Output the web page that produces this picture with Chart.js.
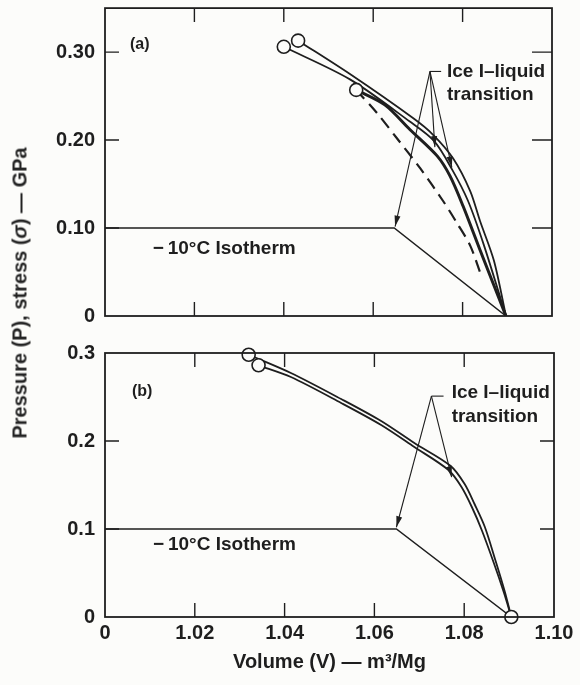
<!DOCTYPE html>
<html>
<head>
<meta charset="utf-8">
<script src="https://cdn.jsdelivr.net/npm/chart.js@4.4.0/dist/chart.umd.min.js"></script>
<style>
  body { margin: 0; background: #fcfcfa; }
  #wrap { position: relative; width: 580px; height: 685px; }
  #boxA { position: absolute; left: 0; top: 0; width: 580px; height: 330px; }
  #boxB { position: absolute; left: 0; top: 330px; width: 580px; height: 355px; }
  #ytitle {
    position: absolute; left: 20px; top: 293px;
    transform: translate(-50%, -50%) rotate(-90deg);
    white-space: nowrap; color: #222;
    font: bold 20px "Liberation Sans", Arial, sans-serif;
  }
</style>
</head>
<body>
<div id="wrap">
  <div id="boxA"><canvas id="chartA"></canvas></div>
  <div id="boxB"><canvas id="chartB"></canvas></div>
  <div id="ytitle">Pressure (P), stress (<i>σ</i>) — GPa</div>
</div>
<script>
// volume axis (m3/Mg); the axis is broken, 1.00 is labelled "0"
const xTicks = [1.00, 1.02, 1.04, 1.06, 1.08, 1.10];
const yTicksA = [0, 0.10, 0.20, 0.30];
const yTicksB = [0, 0.1, 0.2, 0.3];

// panel (a)
const a1V = [1.0432, 1.0548, 1.0689, 1.0734, 1.0779, 1.0817, 1.0839, 1.0870, 1.0897];
const a1P = [0.313, 0.275, 0.225, 0.206, 0.179, 0.142, 0.108, 0.063, 0];
const a2V = [1.0400, 1.0548, 1.0682, 1.0736, 1.0776, 1.0812, 1.0848, 1.0897];
const a2P = [0.306, 0.269, 0.221, 0.199, 0.167, 0.131, 0.080, 0];
const a3V = [1.0562, 1.0626, 1.0682, 1.0743, 1.0772, 1.0801, 1.0839, 1.0897];
const a3P = [0.257, 0.240, 0.212, 0.182, 0.159, 0.125, 0.075, 0];
const aDashV = [1.0562, 1.0608, 1.0653, 1.0705, 1.0756, 1.0787, 1.0817, 1.0843];
const aDashP = [0.257, 0.231, 0.202, 0.168, 0.131, 0.106, 0.080, 0.044];
const aIsoV = [1.00, 1.0647, 1.0897];
const aIsoP = [0.10, 0.10, 0];
const aCircV = [1.0400, 1.0432, 1.0562];
const aCircP = [0.306, 0.313, 0.257];

// panel (b)
const b1V = [1.0320, 1.0414, 1.0526, 1.0615, 1.0689, 1.0770, 1.0801, 1.0823, 1.0846, 1.0870, 1.0890, 1.0905];
const b1P = [0.298, 0.2773, 0.2477, 0.2227, 0.1977, 0.1716, 0.1511, 0.1284, 0.1023, 0.0636, 0.0295, 0];
const b2V = [1.0342, 1.0414, 1.0526, 1.0615, 1.0689, 1.0765, 1.0794, 1.0817, 1.0839, 1.0866, 1.0888, 1.0905];
const b2P = [0.286, 0.2727, 0.2432, 0.2182, 0.1932, 0.167, 0.1477, 0.125, 0.0989, 0.0614, 0.0284, 0];
const bIsoV = [1.00, 1.0649, 1.0905];
const bIsoP = [0.10, 0.10, 0];
const bCircV = [1.0320, 1.0342, 1.0905];
const bCircP = [0.298, 0.286, 0];

// annotation anchors in data units
const notesA = [['(a)', 1.0056, 0.3085, 16], ['\u2212\u200910\u00b0C Isotherm', 1.0107, 0.0768, 19],
                ['Ice I\u2013liquid', 1.0765, 0.278, 19], ['transition', 1.0765, 0.252, 19]];
const notesB = [['(b)', 1.0060, 0.2557, 16], ['\u2212\u200910\u00b0C Isotherm', 1.0107, 0.0818, 19],
                ['Ice I\u2013liquid', 1.0772, 0.2545, 19], ['transition', 1.0772, 0.227, 19]];
const arrowsA = { from: [1.0727, 0.278], leader: 1.0752, to: [[1.0649, 0.1017], [1.0738, 0.192], [1.0776, 0.169]] };
const arrowsB = { from: [1.0727, 0.251], leader: 1.0754, to: [[1.0649, 0.102], [1.0772, 0.159]] };

const ink = '#1e1e1e';
const bg = '#fcfcfa';
const fam = '"Liberation Sans", Arial, sans-serif';

function pts(vs, ps) {
  return vs.map((v, i) => ({ x: v, y: ps[i] }));
}

function curve(vs, ps, w, dash) {
  return {
    data: pts(vs, ps), showLine: true, pointRadius: 0, borderColor: ink,
    borderWidth: w, borderDash: dash || [], tension: 0.3, fill: false
  };
}

function straight(vs, ps) {
  return { data: pts(vs, ps), showLine: true, pointRadius: 0, borderColor: ink, borderWidth: 1.5, tension: 0 };
}

function circles(vs, ps) {
  return {
    data: pts(vs, ps), showLine: false, pointRadius: 6.5, pointBackgroundColor: bg,
    pointBorderColor: ink, pointBorderWidth: 1.6, clip: false
  };
}

const framePlugin = {
  id: 'frame',
  afterDatasetsDraw(chart, args, opts) {
    const { ctx, chartArea: a, scales: { x, y } } = chart;
    ctx.save();
    ctx.strokeStyle = ink;
    ctx.fillStyle = ink;
    ctx.lineWidth = 1.8;
    ctx.strokeRect(a.left, a.top, a.right - a.left, a.bottom - a.top);

    // inner tick marks
    ctx.lineWidth = 1.4;
    ctx.beginPath();
    xTicks.filter(v => v > x.min && v < x.max).forEach(v => {
      const px = x.getPixelForValue(v);
      ctx.moveTo(px, a.top); ctx.lineTo(px, a.top + 14);
      ctx.moveTo(px, a.bottom); ctx.lineTo(px, a.bottom - 14);
    });
    opts.yTicks.filter(v => v > y.min && v < y.max).forEach(v => {
      const py = y.getPixelForValue(v);
      ctx.moveTo(a.left, py); ctx.lineTo(a.left + 14, py);
      ctx.moveTo(a.right, py); ctx.lineTo(a.right - opts.rightTick, py);
    });
    ctx.stroke();

    // arrows from the label
    const ar = opts.arrows;
    const fx = x.getPixelForValue(ar.from[0]), fy = y.getPixelForValue(ar.from[1]);
    ctx.lineWidth = 1.1;
    ctx.beginPath();
    ctx.moveTo(fx, fy); ctx.lineTo(x.getPixelForValue(ar.leader), fy);
    ctx.stroke();
    ar.to.forEach(t => {
      const tx = x.getPixelForValue(t[0]), ty = y.getPixelForValue(t[1]);
      const ang = Math.atan2(ty - fy, tx - fx);
      ctx.beginPath();
      ctx.moveTo(fx, fy); ctx.lineTo(tx, ty);
      ctx.stroke();
      ctx.beginPath();
      ctx.moveTo(tx, ty);
      ctx.lineTo(tx - 11 * Math.cos(ang) + 3 * Math.sin(ang), ty - 11 * Math.sin(ang) - 3 * Math.cos(ang));
      ctx.lineTo(tx - 11 * Math.cos(ang) - 3 * Math.sin(ang), ty - 11 * Math.sin(ang) + 3 * Math.cos(ang));
      ctx.closePath();
      ctx.fill();
    });

    // text notes
    ctx.textAlign = 'left';
    ctx.textBaseline = 'middle';
    opts.notes.forEach(n => {
      ctx.font = 'bold ' + n[3] + 'px ' + fam;
      ctx.fillText(n[0], x.getPixelForValue(n[1]), y.getPixelForValue(n[2]));
    });
    ctx.restore();
  }
};

const tickFont = { family: fam, size: 20, weight: 'bold' };

// fixed-width y axis, no extra label padding above/below the plot
function fitY(s) {
  s.width = 105;
  s.paddingTop = 0;
  s.paddingBottom = 0;
}

new Chart(document.getElementById('chartA'), {
  type: 'scatter',
  data: {
    datasets: [
      circles(aCircV, aCircP),
      curve(a1V, a1P, 1.8),
      curve(a2V, a2P, 1.8),
      curve(a3V, a3P, 3),
      curve(aDashV, aDashP, 2.2, [12, 7]),
      straight(aIsoV, aIsoP)
    ]
  },
  options: {
    responsive: true,
    maintainAspectRatio: false,
    animation: false,
    layout: { padding: { top: 6, right: 28, bottom: 14, left: 0 } },
    plugins: {
      legend: { display: false },
      tooltip: { enabled: false },
      frame: { yTicks: yTicksA, rightTick: 20, arrows: arrowsA, notes: notesA }
    },
    scales: {
      x: { type: 'linear', display: false, min: 1.00, max: 1.10 },
      y: {
        min: 0, max: 0.35,
        grid: { display: false, drawTicks: false },
        border: { display: false },
        afterBuildTicks: s => { s.ticks = yTicksA.map(v => ({ value: v })); },
        afterFit: fitY,
        ticks: { padding: 10, color: ink, font: tickFont,
          callback: v => v === 0 ? '0' : v.toFixed(2) }
      }
    }
  },
  plugins: [framePlugin]
});

new Chart(document.getElementById('chartB'), {
  type: 'scatter',
  data: {
    datasets: [
      circles(bCircV, bCircP),
      curve(b1V, b1P, 1.8),
      curve(b2V, b2P, 1.8),
      straight(bIsoV, bIsoP)
    ]
  },
  options: {
    responsive: true,
    maintainAspectRatio: false,
    animation: false,
    layout: { padding: { top: 23, right: 26, bottom: 0, left: 0 } },
    plugins: {
      legend: { display: false },
      tooltip: { enabled: false },
      frame: { yTicks: yTicksB, rightTick: 14, arrows: arrowsB, notes: notesB }
    },
    scales: {
      x: {
        type: 'linear', min: 1.00, max: 1.10,
        grid: { display: false, drawTicks: false },
        border: { display: false },
        afterBuildTicks: s => { s.ticks = xTicks.map(v => ({ value: v })); },
        afterFit: s => { s.height = 68; },
        ticks: { padding: 4, color: ink, font: tickFont, maxRotation: 0,
          callback: v => v < 1.001 ? '0' : v.toFixed(2) },
        title: { display: true, text: 'Volume (V) \u2014 m\u00b3/Mg', color: ink,
          font: tickFont, padding: { top: 0, bottom: 11 } }
      },
      y: {
        min: 0, max: 0.3,
        grid: { display: false, drawTicks: false },
        border: { display: false },
        afterBuildTicks: s => { s.ticks = yTicksB.map(v => ({ value: v })); },
        afterFit: fitY,
        ticks: { padding: 10, color: ink, font: tickFont,
          callback: v => v === 0 ? '0' : v.toFixed(1) }
      }
    }
  },
  plugins: [framePlugin]
});
</script>
</body>
</html>
